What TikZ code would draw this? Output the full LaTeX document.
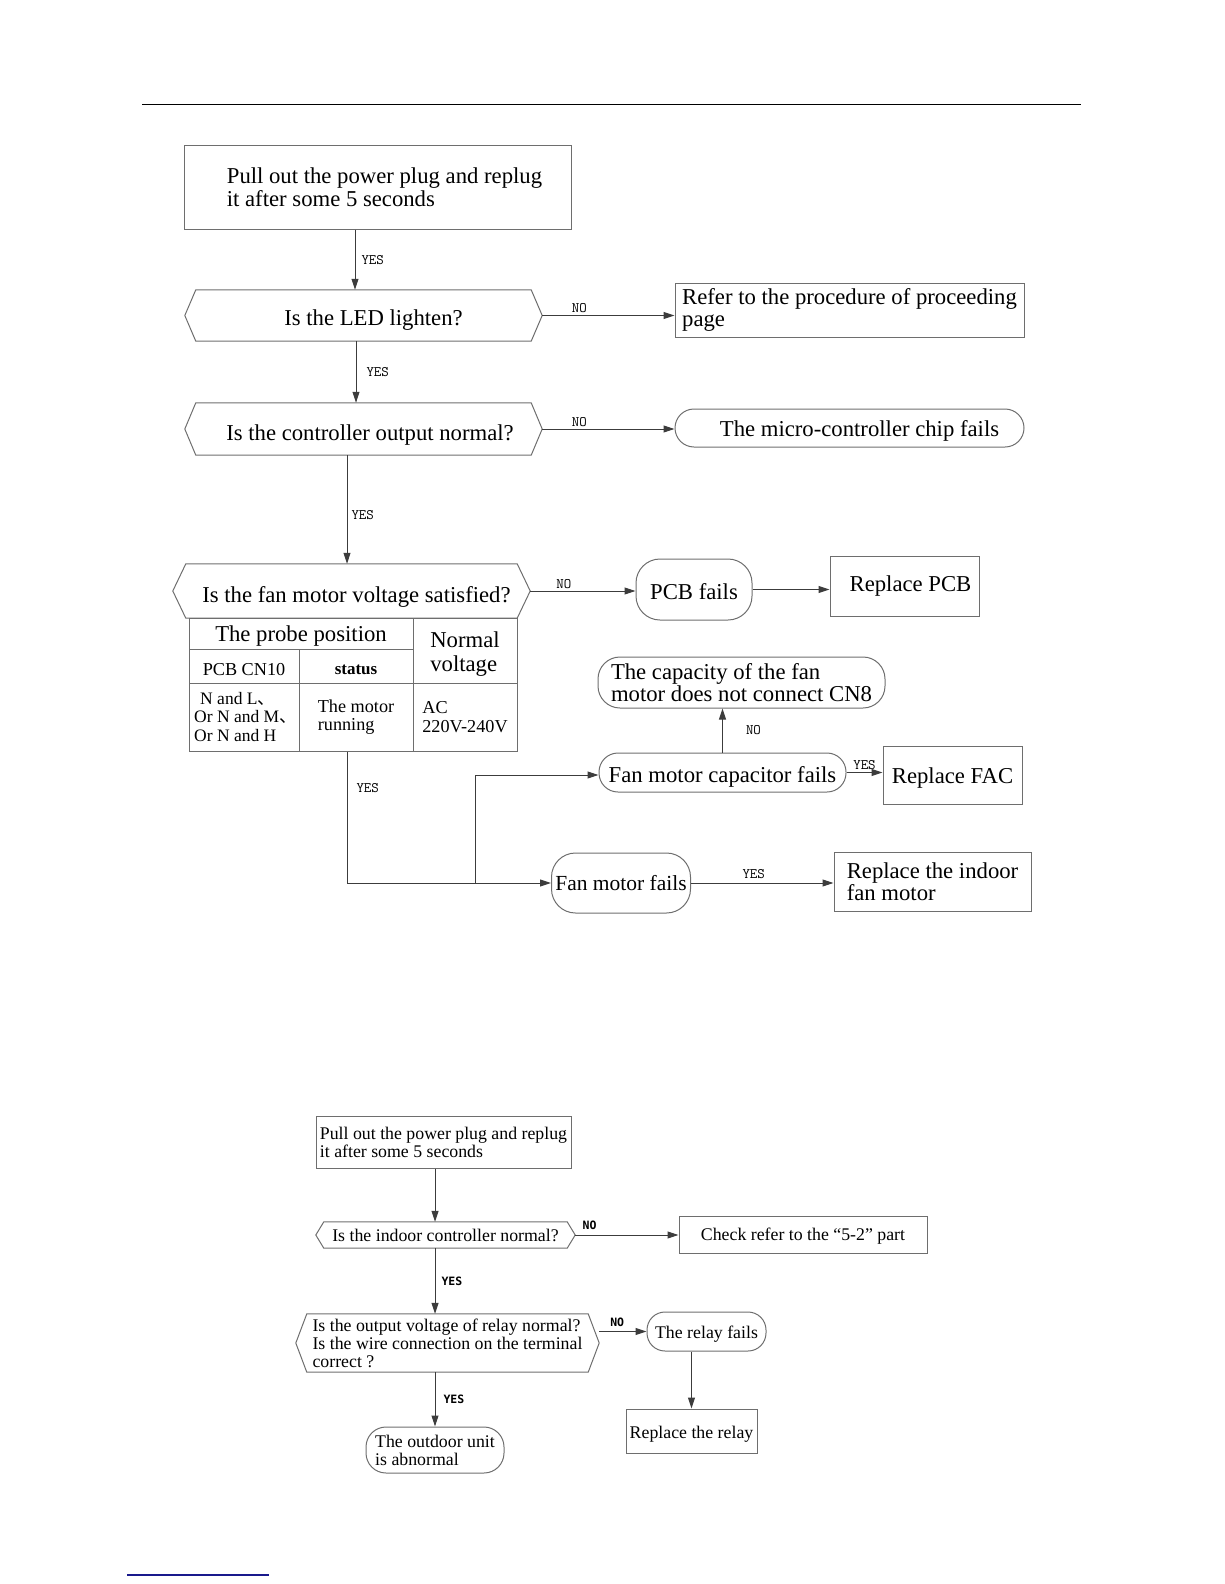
\documentclass[tikz,border=0pt]{standalone}
\usepackage{fontspec}
\setmainfont{Liberation Serif}
\newfontfamily\cjk{Noto Sans CJK SC}
\newfontfamily\ansfont{DejaVu Sans Mono}
\usepackage{tikz}
\usetikzlibrary{arrows.meta,calc}

\definecolor{linegray}{RGB}{60,60,60}
\definecolor{boxgray}{RGB}{110,110,110}
\definecolor{footblue}{RGB}{25,25,140}

\newcommand{\bigtxt}{\fontsize{22.7}{22.5}\selectfont}
\newcommand{\midtxt}{\fontsize{18.2}{18.5}\selectfont}
\newcommand{\smalltxt}{\fontsize{17.8}{18}\selectfont}

\begin{document}
\begin{tikzpicture}[x=1pt, y=-1pt,
  procbox/.style={draw=boxgray, line width=1pt, align=left, inner sep=0pt, font=\bigtxt},
  endbox/.style={procbox, rounded corners=#1}, endbox/.default=20pt,
  testbox/.style={align=left, inner sep=0pt, font=\bigtxt},
  hexline/.style={draw=boxgray, line width=1pt},
  cell/.style={draw=boxgray, line width=1pt, inner sep=0pt, align=left, font=\midtxt},
  bl/.style={text height=#1, text depth=0pt},
  ans/.style={font=\fontsize{14.5}{14.5}\ttfamily, inner sep=1pt},
  ansb/.style={font=\fontsize{11.5}{11.5}\ansfont\bfseries, inner sep=1pt},
  arr/.style={draw=linegray, line width=1pt, -{Triangle[length=11pt,width=7pt]}}
]
\useasboundingbox (0,0) rectangle (1224,1584);

\draw[line width=1pt] (142,105) -- (1081,105);
\draw[footblue, line width=1.2pt] (127,1575) -- (269,1575);

\node[procbox, minimum width=387pt, minimum height=84pt] (plug) at (377.5,187) {\hspace*{14pt}Pull out the power plug and replug\\\hspace*{14pt}it after some 5 seconds};
\node[testbox, bl=19pt, minimum width=357pt, minimum height=51pt] (led) at (363.5,315.5) {\hspace*{20pt}Is the LED lighten?};
\node[procbox, minimum width=349pt, minimum height=54pt] (refer) at (849.5,310) {Refer to the procedure of proceeding\\page};
\node[testbox, bl=22pt, minimum width=357pt, minimum height=52pt] (ctrl) at (363.5,429) {\hspace*{13pt}Is the controller output normal?};
\node[endbox=19pt, bl=16pt, minimum width=349pt, minimum height=38pt] (chip) at (849.5,428) {\hspace*{20pt}The micro-controller chip fails};
\node[testbox, bl=22pt, minimum width=357pt, minimum height=54pt] (volt) at (351.5,591) {\hspace*{10pt}Is the fan motor voltage satisfied?};
\node[endbox=24pt, bl=19pt, minimum width=116pt, minimum height=61pt] (pcbfail) at (694,589.5) {PCB fails};
\node[procbox, minimum width=149pt, minimum height=60pt] (rpcb) at (904.5,586) {\hspace*{12pt}Replace PCB};

\node[cell, bl=16.6pt, minimum width=224pt, minimum height=31pt, font=\bigtxt] (probe) at (301,633.5) {The probe position};
\node[cell, minimum width=104pt, minimum height=65pt, font=\fontsize{22.7}{24}\selectfont] (normal) at (465,650.5) {\rule{0pt}{22pt}Normal\\voltage};
\node[cell, bl=18pt, minimum width=110pt, minimum height=34pt] (cn10) at (244,666) {PCB CN10};
\node[cell, bl=16pt, minimum width=114pt, minimum height=34pt, font=\fontsize{17}{17}\selectfont\bfseries] (status) at (356,666) {status};
\node[cell, minimum width=110pt, minimum height=68pt, font=\fontsize{17.5}{18.5}\selectfont] (pins) at (244,717) {\hspace*{9pt}N and L{\cjk 、}\\\hspace*{3pt}Or N and M{\cjk 、}\\\hspace*{3pt}Or N and H};
\node[cell, minimum width=114pt, minimum height=68pt] (running) at (356,717) {The motor\\running};
\node[cell, minimum width=104pt, minimum height=68pt] (acv) at (465,717) {AC\\220V-240V};

\node[endbox=22pt, minimum width=287pt, minimum height=51pt] (cn8) at (741.5,682.5) {The capacity of the fan\\motor does not connect CN8};
\node[endbox=19pt, bl=19pt, minimum width=247pt, minimum height=39pt] (capfail) at (722.5,772.5) {Fan motor capacitor fails};
\node[procbox, bl=16pt, minimum width=139pt, minimum height=58pt] (fac) at (952.5,775) {Replace FAC};
\node[endbox=24pt, minimum width=139pt, minimum height=60pt, font=\fontsize{21.5}{22}\selectfont] (fanfail) at (621,883) {Fan motor fails};
\node[procbox, minimum width=197pt, minimum height=59pt] (indoor) at (932.5,881.5) {Replace the indoor\\fan motor};

\node[procbox, font=\smalltxt, minimum width=255pt, minimum height=52pt] (plug2) at (443.5,1142) {Pull out the power plug and replug\\it after some 5 seconds};
\node[testbox, font=\smalltxt, minimum width=259pt, minimum height=26pt] (indoorq) at (445.5,1235) {Is the indoor controller normal?};
\node[procbox, bl=12.2pt, font=\smalltxt, minimum width=248pt, minimum height=37pt] (check) at (803,1234.5) {Check refer to the “5-2” part};
\node[testbox, font=\smalltxt, minimum width=303pt, minimum height=58pt] (relayq) at (447.5,1343) {Is the output voltage of relay normal?\\Is the wire connection on the terminal\\correct ?};
\node[endbox=18pt, bl=14.2pt, font=\smalltxt, minimum width=119pt, minimum height=39pt] (relayf) at (706.5,1331.5) {The relay fails};
\node[procbox, bl=14pt, font=\smalltxt, minimum width=131pt, minimum height=44pt] (rrelay) at (691.5,1431) {Replace the relay};
\node[endbox=20pt, font=\smalltxt, minimum width=138pt, minimum height=46pt] (outdoor) at (435,1450) {The outdoor unit\\is abnormal};

\foreach \n/\k in {led/11,ctrl/11,volt/13,indoorq/8,relayq/11}
  \draw[hexline] ([xshift=\k pt]\n.north west) -- ([xshift=-\k pt]\n.north east) -- (\n.east)
    -- ([xshift=-\k pt]\n.south east) -- ([xshift=\k pt]\n.south west) -- (\n.west) -- cycle;

\draw[arr] ([xshift=-22.5pt]plug.south) -- node[ans, right=5pt]{YES} ([xshift=-22.5pt]plug.south |- led.north);
\draw[arr] (led.east) -- node[ans, above=1pt, pos=0.28]{NO} (led.east -| refer.west);
\draw[arr] ([xshift=-7.5pt]led.south) -- node[ans, right=9pt]{YES} ([xshift=-7.5pt]led.south |- ctrl.north);
\draw[arr] (ctrl.east) -- node[ans, above=1pt, pos=0.28]{NO} (ctrl.east -| chip.west);
\draw[arr] ([xshift=-16.5pt]ctrl.south) -- node[ans, right=3pt, pos=0.55]{YES} ([xshift=-16.5pt]ctrl.south |- volt.north);
\draw[arr] (volt.east) -- node[ans, above=1pt, pos=0.32]{NO} (volt.east -| pcbfail.west);
\draw[arr] (pcbfail.east) -- (pcbfail.east -| rpcb.west);

\draw[arr] ([xshift=-9pt]running.south) -- node[ans, right=8pt, pos=0.28]{YES} ([xshift=-9pt]running.south |- fanfail.west) -- (fanfail.west);
\coordinate (split) at ($(fanfail.west)+(-75.5,0)$);
\draw[arr] (split) |- ([yshift=-2.5pt]capfail.west);
\draw[arr] (capfail.north) -- node[ans, right=22pt]{NO} (capfail.north |- cn8.south);
\draw[arr] (capfail.east) -- node[ans, above=1pt]{YES} (capfail.east -| fac.west);
\draw[arr] (fanfail.east) -- node[ans, above=3pt, pos=0.44]{YES} (fanfail.east -| indoor.west);

\draw[arr] ([xshift=-8.5pt]plug2.south) -- ([xshift=-8.5pt]plug2.south |- indoorq.north);
\draw[arr] (indoorq.east) -- node[ansb, above=4pt, pos=0.14]{NO} (indoorq.east -| check.west);
\draw[arr] ([xshift=-10.5pt]indoorq.south) -- node[ansb, right=5pt]{YES} ([xshift=-10.5pt]indoorq.south |- relayq.north);
\draw[arr] (relayf.west -| relayq.east) -- node[ansb, above=3pt, pos=0.38]{NO} (relayf.west);
\draw[arr] (relayf.south -| rrelay.north) -- (rrelay.north);
\draw[arr] ([xshift=-12.5pt]relayq.south) -- node[ansb, right=7pt]{YES} ([xshift=-12.5pt]relayq.south |- outdoor.north);
\end{tikzpicture}
\end{document}
